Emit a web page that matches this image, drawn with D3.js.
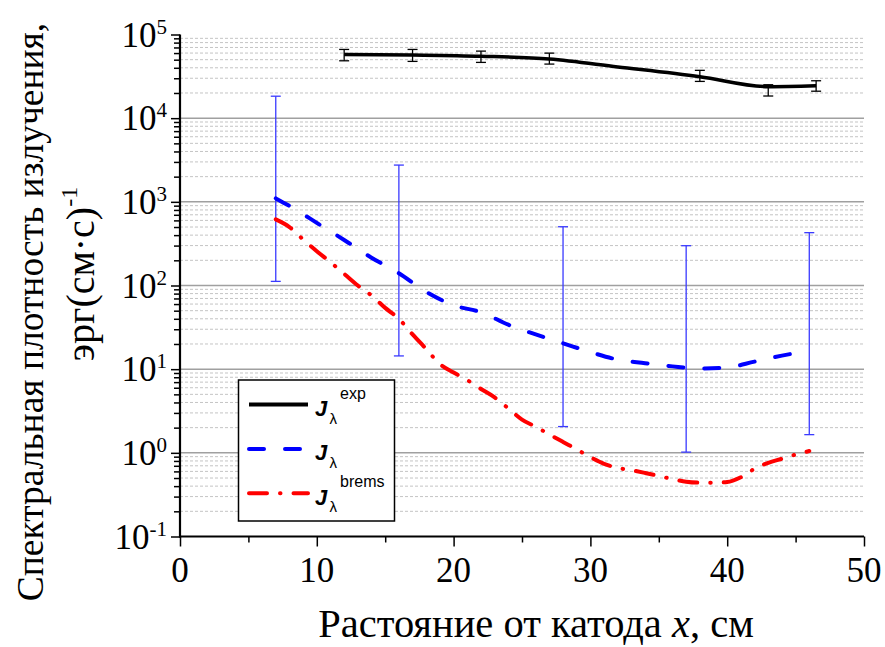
<!DOCTYPE html>
<html>
<head>
<meta charset="utf-8">
<script src="https://cdn.jsdelivr.net/npm/d3@7"></script>
<style>
  html, body { margin: 0; padding: 0; background: #fff; }
  svg { display: block; }
</style>
</head>
<body>
<svg id="chart" width="885" height="647"></svg>
<script>
// ---------- data ----------
const xTicks = [0, 10, 20, 30, 40, 50];
const xMinorTicks = [5, 15, 25, 35, 45];
const yTickExps = [-1, 0, 1, 2, 3, 4, 5];

// J_lambda^exp (black solid)
const expX = [12, 17, 22, 27, 32, 38, 43, 46.5];
const expY = [57800, 56800, 55000, 51000, 41000, 31300, 23800, 24400];
// error bars of J^exp
const expErrX = [12, 17, 22, 27, 38, 43, 46.5];
const expErrLow = [48500, 47700, 46400, 44300, 27500, 18400, 21000];
const expErrHigh = [66300, 66300, 63300, 59900, 37300, 25100, 28000];

// J_lambda (blue dashed)
const jX = [7, 8.5, 10, 12, 14, 16, 18, 20, 22, 24, 26, 28, 30, 32, 34, 36, 38, 40, 42, 44, 46];
const jY = [1100, 800, 560, 350, 215, 140, 84, 58, 48, 34, 26, 20.4, 16, 13, 11.8, 10.8, 10.2, 10.5, 12.3, 14.5, 16.6];
// error bars of J
const jErrX = [7, 16, 28, 37, 46];
const jErrLow = [112, 14.4, 2.06, 1.02, 1.65];
const jErrHigh = [18300, 2750, 504, 299, 428];

// J_lambda^brems (red dash-dot)
const bX = [7, 8, 9, 10, 11, 12, 13, 14, 15, 16, 17, 18, 19, 20, 21, 22, 23, 24, 25, 26, 27, 28, 29, 30,
            31, 32, 33, 34, 35, 36, 37, 38, 39, 40, 41, 42, 43, 44, 45, 46];
const bY = [617, 500, 355, 257, 190, 138, 100, 76, 54, 40, 26, 17.4, 11.5, 9.1, 7.4, 5.8, 4.6, 3.4, 2.5, 2.05,
            1.66, 1.35, 1.1, 0.89, 0.74, 0.66, 0.62, 0.575, 0.53, 0.485, 0.452, 0.44, 0.44, 0.447, 0.51, 0.645,
            0.76, 0.85, 0.955, 1.05];

const legendLabels = [
  { sup: "exp", color: "#000", dash: null },
  { sup: "", color: "#0000ff", dash: "15,21" },
  { sup: "brems", color: "#ff0000", dash: "18,13,0.5,13" }
];

// ---------- layout ----------
const svg = d3.select("#chart");
const pLeft = 180, pRight = 864, pTop = 34.5, pBottom = 536.5;
const x = d3.scaleLinear().domain([0, 50]).range([pLeft, pRight]);
const y = d3.scaleLog().domain([0.1, 1e5]).range([pBottom, pTop]);

const serif = "'Liberation Serif', 'Times New Roman', serif";
const sans = "'Liberation Sans', Arial, sans-serif";

// ---------- grid ----------
const minorVals = [];
for (let e = -1; e < 5; e++) for (let m = 2; m <= 9; m++) minorVals.push(m * Math.pow(10, e));
const grid = svg.append("g");
grid.selectAll("line.minor").data(minorVals).enter().append("line")
  .attr("x1", pLeft).attr("x2", pRight)
  .attr("y1", d => y(d)).attr("y2", d => y(d))
  .attr("stroke", "#c4c4c4").attr("stroke-width", 1).attr("stroke-dasharray", "3,2");
grid.selectAll("line.major").data([1, 10, 100, 1000, 10000]).enter().append("line")
  .attr("x1", pLeft).attr("x2", pRight)
  .attr("y1", d => y(d)).attr("y2", d => y(d))
  .attr("stroke", "#a0a0a0").attr("stroke-width", 1.5);

// ---------- error bars J (blue) ----------
const capW = 5;
const gJ = svg.append("g").attr("stroke", "#3a3aff").attr("stroke-width", 1.3);
jErrX.forEach((d, i) => {
  gJ.append("line").attr("x1", x(d)).attr("x2", x(d)).attr("y1", y(jErrLow[i])).attr("y2", y(jErrHigh[i]));
  gJ.append("line").attr("x1", x(d) - capW).attr("x2", x(d) + capW).attr("y1", y(jErrLow[i])).attr("y2", y(jErrLow[i]));
  gJ.append("line").attr("x1", x(d) - capW).attr("x2", x(d) + capW).attr("y1", y(jErrHigh[i])).attr("y2", y(jErrHigh[i]));
});

// ---------- lines ----------
const lineGen = d3.line().x(d => x(d[0])).y(d => y(d[1])).curve(d3.curveMonotoneX);

svg.append("path").datum(bX.map((d, i) => [d, bY[i]]))
  .attr("d", lineGen).attr("fill", "none").attr("stroke", "#ff0000")
  .attr("stroke-width", 4).attr("stroke-linecap", "round").attr("stroke-dasharray", "18,13,0.5,13");

svg.append("path").datum(jX.map((d, i) => [d, jY[i]]))
  .attr("d", lineGen).attr("fill", "none").attr("stroke", "#0000ff")
  .attr("stroke-width", 4).attr("stroke-linecap", "round").attr("stroke-dasharray", "15,21");

svg.append("path").datum(expX.map((d, i) => [d, expY[i]]))
  .attr("d", lineGen).attr("fill", "none").attr("stroke", "#000")
  .attr("stroke-width", 3.5);

// ---------- error bars exp (black) ----------
const gE = svg.append("g").attr("stroke", "#000").attr("stroke-width", 1.3);
expErrX.forEach((d, i) => {
  gE.append("line").attr("x1", x(d)).attr("x2", x(d)).attr("y1", y(expErrLow[i])).attr("y2", y(expErrHigh[i]));
  gE.append("line").attr("x1", x(d) - capW).attr("x2", x(d) + capW).attr("y1", y(expErrLow[i])).attr("y2", y(expErrLow[i]));
  gE.append("line").attr("x1", x(d) - capW).attr("x2", x(d) + capW).attr("y1", y(expErrHigh[i])).attr("y2", y(expErrHigh[i]));
});

// ---------- axes ----------
function styleAxis(g) {
  g.select(".domain").remove();
  g.selectAll(".tick line").attr("stroke", "#000").attr("stroke-width", 1.5);
}
svg.append("g").attr("transform", `translate(0,${pBottom})`)
  .call(d3.axisBottom(x).tickValues(xTicks).tickSize(10).tickFormat(""))
  .call(styleAxis);
svg.append("g").attr("transform", `translate(0,${pBottom})`)
  .call(d3.axisBottom(x).tickValues(xMinorTicks).tickSize(6).tickFormat(""))
  .call(styleAxis);
svg.append("g").attr("transform", `translate(${pLeft},0)`)
  .call(d3.axisLeft(y).tickValues(yTickExps.map(e => Math.pow(10, e))).tickSize(9).tickFormat(""))
  .call(styleAxis);
svg.append("g").attr("transform", `translate(${pLeft},0)`)
  .call(d3.axisLeft(y).tickValues(minorVals).tickSize(6).tickFormat(""))
  .call(styleAxis);

svg.append("line").attr("x1", pLeft).attr("x2", pLeft).attr("y1", pTop).attr("y2", pBottom + 1)
  .attr("stroke", "#000").attr("stroke-width", 2.2);
svg.append("line").attr("x1", pLeft - 1).attr("x2", pRight).attr("y1", pBottom).attr("y2", pBottom)
  .attr("stroke", "#000").attr("stroke-width", 2.2);

// x tick labels
svg.append("g").selectAll("text").data(xTicks).enter().append("text")
  .attr("x", d => x(d)).attr("y", 582)
  .attr("text-anchor", "middle")
  .attr("font-family", serif).attr("font-size", 35)
  .text(d => d);

// y tick labels
const yl = svg.append("g").selectAll("text").data(yTickExps).enter().append("text")
  .attr("x", 167).attr("y", d => y(Math.pow(10, d)) + 12)
  .attr("text-anchor", "end")
  .attr("font-family", serif).attr("font-size", 35);
yl.append("tspan").text("10");
yl.append("tspan").attr("font-size", 21).attr("dy", -13).text(d => d);

// axis titles
svg.append("text").attr("x", 536).attr("y", 637).attr("text-anchor", "middle")
  .attr("font-family", serif).attr("font-size", 40.5)
  .html("Растояние от катода <tspan font-style='italic'>x</tspan>, см");

svg.append("text").attr("transform", "translate(43,312) rotate(-90)")
  .attr("text-anchor", "middle").attr("font-family", serif).attr("font-size", 37.5)
  .text("Спектральная плотность излучения,");

const t2 = svg.append("text").attr("transform", "translate(94,274) rotate(-90)")
  .attr("text-anchor", "middle").attr("font-family", serif).attr("font-size", 40);
t2.append("tspan").text("эрг(см·с)");
t2.append("tspan").attr("font-size", 24).attr("dy", -17).text("-1");

// ---------- legend ----------
const lg = svg.append("g");
lg.append("rect").attr("x", 238.5).attr("y", 380).attr("width", 156).attr("height", 141)
  .attr("fill", "#fff").attr("stroke", "#000").attr("stroke-width", 1.5);
legendLabels.forEach((d, i) => {
  const yy = 404.5 + i * 44.4;
  lg.append("line").attr("x1", 249).attr("x2", 308).attr("y1", yy).attr("y2", yy)
    .attr("stroke", d.color).attr("stroke-width", 4)
    .attr("stroke-linecap", d.dash ? "round" : "butt")
    .attr("stroke-dasharray", d.dash);
  lg.append("text").attr("x", 315).attr("y", yy + 11.5)
    .attr("font-family", sans).attr("font-size", 22).attr("font-style", "italic").attr("font-weight", "bold")
    .text("J");
  lg.append("text").attr("x", 329.5).attr("y", yy + 19)
    .attr("font-family", sans).attr("font-size", 15).text("λ");
  if (d.sup) lg.append("text").attr("x", 340).attr("y", yy - 6)
    .attr("font-family", sans).attr("font-size", 16).text(d.sup);
});
</script>
</body>
</html>
